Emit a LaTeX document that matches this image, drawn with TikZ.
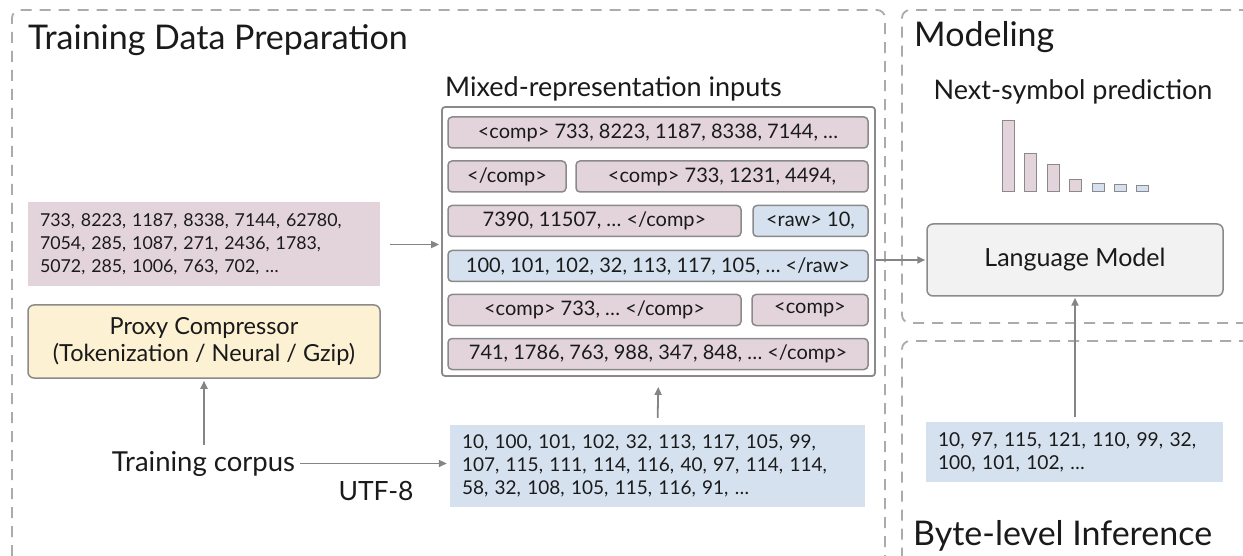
\documentclass[tikz,border=0pt]{standalone}
\usepackage{fontspec}
\setmainfont{Lato}
\usetikzlibrary{arrows.meta}
\definecolor{pinkc}{HTML}{E3D4DB}
\definecolor{bluec}{HTML}{D5E1EF}
\definecolor{yellowc}{HTML}{FCF1D3}
\definecolor{lmfill}{HTML}{F2F2F2}
\definecolor{boxgray}{HTML}{8A8A8A}
\definecolor{dashgray}{HTML}{ABABAB}
\definecolor{arrgray}{HTML}{858585}
\definecolor{txt}{HTML}{1A1A1A}
\newcommand{\fs}[2]{\fontsize{#1}{#2}\selectfont}
\tikzset{
  dashbox/.style={draw=dashgray, line width=1.8pt, dash pattern=on 11pt off 8pt, rounded corners=8pt},
  rowbox/.style={draw=boxgray, line width=1.5pt, rounded corners=4pt, minimum height=31pt, inner sep=0pt, font=\fs{20}{24}, text=txt},
  comp/.style={rowbox, fill=pinkc},
  raw/.style={rowbox, fill=bluec},
  arr/.style={-{Triangle[length=8pt,width=7pt]}, draw=arrgray, line width=1.8pt},
  title/.style={anchor=base west, inner sep=0pt, font=\fs{34}{40}, text=txt},
  lbl/.style={inner sep=0pt, text=txt},
  numbox/.style={inner xsep=12pt, inner ysep=0pt, align=left, text=txt},
  bar/.style={draw=boxgray, line width=1pt}
}
\begin{document}
\begin{tikzpicture}[x=1pt,y=-1pt]
\useasboundingbox (0,0) rectangle (1243,556);
% section outlines
\draw[dashbox] (12,556) -- (12,10) -- (885,10) -- (885,556);
\draw[dashbox] (1250,10) -- (902,10) -- (902,323) -- (1250,323);
\draw[dashbox] (1250,341) -- (902,341) -- (902,556);
% titles
\node[title] (t1) at (28,50) {Training Data Preparation};
\node[title] (t2) at (914,47) {Modeling};
\node[title] (t3) at (913,545) {Byte-level Inference};
% left column
\node[numbox, font=\fs{17.8}{23}, fill=pinkc, text width=328pt, minimum height=84pt] (tok) at (204,244.5)
  {733, 8223, 1187, 8338, 7144, 62780,\\7054, 285, 1087, 271, 2436, 1783,\\5072, 285, 1006, 763, 702, \dots};
\node[draw=boxgray, line width=1.5pt, rounded corners=6pt, fill=yellowc, minimum width=352pt, minimum height=73pt, inner sep=0pt, align=center, font=\fs{23.5}{27}, text=txt] (prox) at (204,341.5)
  {Proxy Compressor\\(Tokenization / Neural / Gzip)};
\node[lbl, font=\fs{27.5}{32}, anchor=base] (corpus) at (203.5,471) {Training corpus};
\node[lbl, font=\fs{26.5}{32}, anchor=base] (utflbl) at (376,500) {UTF-8};
\node[numbox, font=\fs{19}{23}, fill=bluec, text width=391pt, minimum height=82pt] (utf) at (657.5,466)
  {10, 100, 101, 102, 32, 113, 117, 105, 99,\\107, 115, 111, 114, 116, 40, 97, 114, 114,\\58, 32, 108, 105, 115, 116, 91, \dots};
% mixed representation
\node[lbl, font=\fs{27}{32}, anchor=base west] (mixlbl) at (445,97) {Mixed-representation inputs};
\node[draw=boxgray, line width=1.8pt, rounded corners=3pt, minimum width=433pt, minimum height=269pt, inner sep=0pt] (mix) at (658.5,241.5) {};
\node[comp, minimum width=420pt] (r1) at (658,132.5) {<comp> 733, 8223, 1187, 8338, 7144, \dots};
\node[comp, minimum width=118pt] (r2a) at (507,176.5) {</comp>};
\node[comp, minimum width=292pt] (r2b) at (722,176.5) {<comp> 733, 1231, 4494,};
\node[comp, minimum width=293pt] (r3a) at (594.5,221) {7390, 11507, \dots{} </comp>};
\node[raw, minimum width=115pt] (r3b) at (810.5,221) {<raw> 10,};
\node[raw, minimum width=420pt] (r4) at (658,266) {100, 101, 102, 32, 113, 117, 105, \dots{} </raw>};
\node[comp, minimum width=293pt] (r5a) at (594.5,310) {<comp> 733, \dots{} </comp>};
\node[comp, minimum width=116pt] (r5b) at (810,310) {<comp>};
\node[comp, minimum width=420pt] (r6) at (658,354) {741, 1786, 763, 988, 347, 848, \dots{} </comp>};
% modeling
\node[lbl, font=\fs{27}{32}, anchor=base] (nsp) at (1073,100) {Next-symbol prediction};
\draw[bar, fill=pinkc] (1002,192) rectangle (1014,121);
\draw[bar, fill=pinkc] (1024,192) rectangle (1036,154);
\draw[bar, fill=pinkc] (1047,192) rectangle (1059,165);
\draw[bar, fill=pinkc] (1069,192) rectangle (1081,180);
\draw[bar, fill=bluec] (1092,192) rectangle (1104,184);
\draw[bar, fill=bluec] (1114,192) rectangle (1126,185);
\draw[bar, fill=bluec] (1136,192) rectangle (1148,186);
\node[draw=boxgray, line width=1.5pt, rounded corners=6pt, fill=lmfill, minimum width=296pt, minimum height=72pt, font=\fs{25}{30}, text=txt] (lm) at (1075,260) {Language Model};
% inference
\node[numbox, font=\fs{19.2}{23}, fill=bluec, text width=273pt, minimum height=60pt] (bin) at (1074.5,452)
  {10, 97, 115, 121, 110, 99, 32,\\100, 101, 102, \dots};
% connectors
\draw[arr, shorten <=10pt, shorten >=2pt] (tok.east) -- (tok.east -| mix.west);
\draw[arr, shorten <=6pt, shorten >=2pt] (prox.south |- corpus.north) -- (prox.south);
\draw[arr, shorten <=5pt, shorten >=3pt] (corpus.east) -- (corpus.east -| utf.west);
\draw[arr, shorten <=7pt, shorten >=10pt] (utf.north) -- (mix.south);
\draw[arr, shorten >=1pt] (mix.east |- lm.west) -- (lm.west);
\draw[arr, shorten <=5pt, shorten >=1pt] (bin.north -| lm.south) -- (lm.south);
\end{tikzpicture}
\end{document}
